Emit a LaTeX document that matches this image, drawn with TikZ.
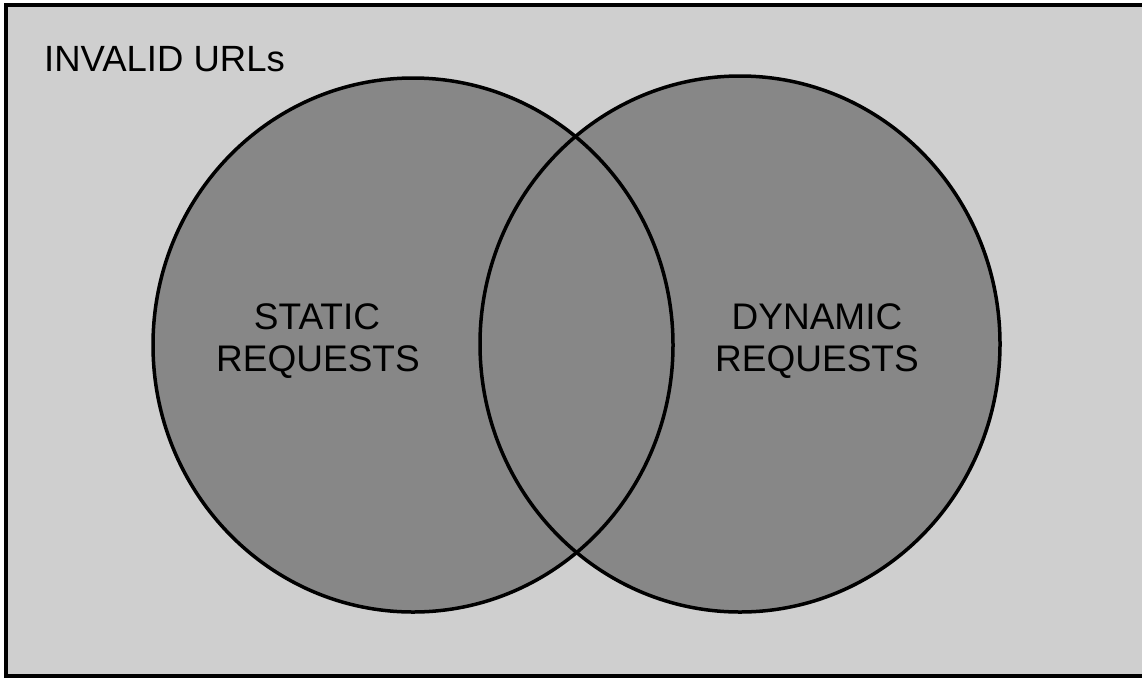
\documentclass[tikz,border=0pt]{standalone}
\usepackage{fontspec}
\setmainfont{Liberation Sans}
\definecolor{bgfill}{gray}{0.81}
\definecolor{setfill}{gray}{0.53}
\tikzset{
  setcircle/.style={fill=setfill},
  setedge/.style={draw=black,line width=3.5pt},
  frame/.style={draw=black,line width=4pt,fill=bgfill},
  lbl/.style={anchor=base,inner sep=0pt,font=\fontsize{37}{42}\selectfont},
  title/.style={anchor=base west,inner sep=0pt,font=\fontsize{36.5}{42}\selectfont}
}
\begin{document}
\begin{tikzpicture}[x=1pt,y=-1pt]
\useasboundingbox (0,0) rectangle (1142,678);
\begin{scope}
\clip (0,0) rectangle (1142,678);
\fill[white] (0,0) rectangle (1142,678);
\draw[frame] (5.5,5) rectangle (1160,676);
\end{scope}
\fill[setcircle] (413,345) ellipse [x radius=260, y radius=267];
\fill[setcircle] (740,344) ellipse [x radius=260, y radius=268];
\draw[setedge] (413,345) ellipse [x radius=260, y radius=267];
\draw[setedge] (740,344) ellipse [x radius=260, y radius=268];
\node[title] (invalid) at (44,71) {INVALID URLs};
\node[lbl] (staticA) at (317,329) {STATIC};
\node[lbl] (staticB) at (318,371) {REQUESTS};
\node[lbl] (dynA) at (817,329) {DYNAMIC};
\node[lbl] (dynB) at (817,371) {REQUESTS};
\end{tikzpicture}
\end{document}
